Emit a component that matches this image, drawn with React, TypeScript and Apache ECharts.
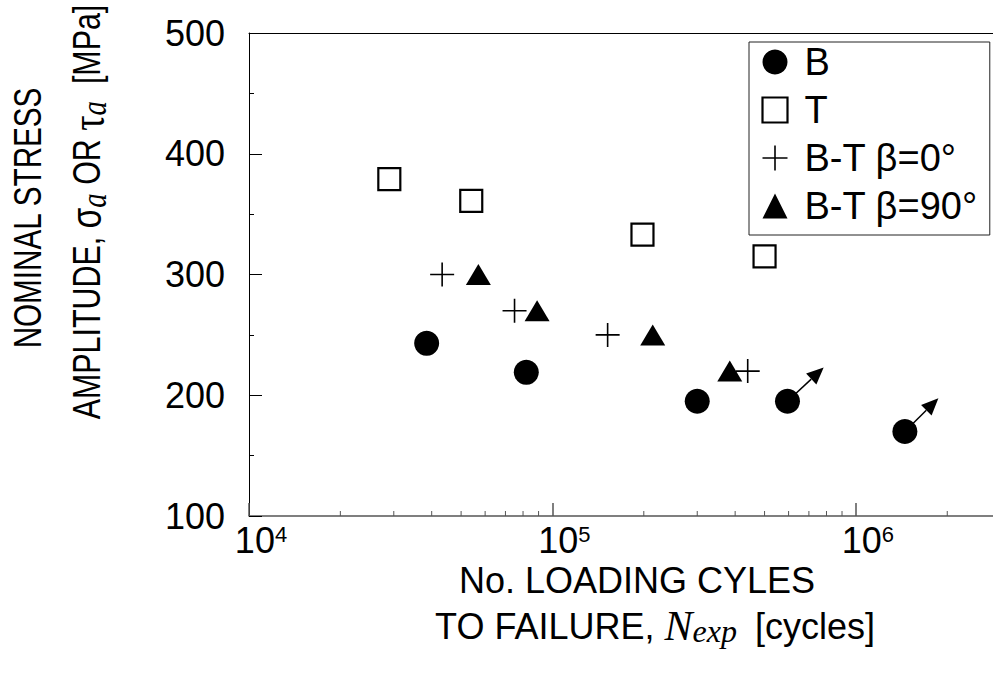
import React, { useEffect, useRef } from "react";
import * as echarts from "echarts";

const SANS = "'Liberation Sans', Arial, sans-serif";
const SERIF = "'Liberation Serif', 'Times New Roman', serif";

const seriesNames = ["B", "T", "B-T β=0°", "B-T β=90°"];
const cyclesB = [3.85e4, 8.2e4, 3.0e5, 5.95e5, 1.45e6];
const stressB = [243, 219, 195, 195, 170];
const cyclesT = [2.9e4, 5.4e4, 1.98e5, 5.0e5];
const stressT = [379, 361, 333, 315];
const cyclesBT0 = [4.33e4, 7.5e4, 1.52e5, 4.4e5];
const stressBT0 = [300, 270, 250, 220];
const cyclesBT90 = [5.7e4, 8.9e4, 2.14e5, 3.84e5];
const stressBT90 = [300, 270, 250, 220];
// run-out specimens: arrow from the point to the tip
const runoutFrom = [
  [5.95e5, 195],
  [1.45e6, 170],
];
const runoutTo = [
  [7.83e5, 223],
  [1.87e6, 197.5],
];
const xMin = 1e4;
const xMax = 2.83e6;
const yMin = 100;
const yMax = 500;
const yStep = 100;
const minorTicksX = [
  2e4, 3e4, 4e4, 5e4, 6e4, 7e4, 8e4, 9e4,
  2e5, 3e5, 4e5, 5e5, 6e5, 7e5, 8e5, 9e5,
  2e6,
];

const pairs = (xs: number[], ys: number[]) => xs.map((x, i) => [x, ys[i]]);

export default function App() {
  const ref = useRef<HTMLDivElement>(null);
  useEffect(() => {
    if (!ref.current) return;
    const chart = echarts.init(ref.current, null, { renderer: "svg" });
    const option: any = {
      animation: false,
      backgroundColor: "#fff",
      grid: { left: 249, top: 33, right: 0, bottom: 157 },
      legend: {
        data: seriesNames,
        orient: "vertical",
        left: 749,
        top: 42,
        padding: [1, 12, 10, 11],
        backgroundColor: "#fff",
        borderColor: "#222",
        borderWidth: 1,
        borderRadius: 0,
        itemWidth: 25,
        itemHeight: 25,
        itemGap: 10,
        itemStyle: { borderWidth: "inherit", opacity: 1 },
        textStyle: {
          fontSize: 38,
          fontFamily: SANS,
          color: "#000",
          lineHeight: 38,
          padding: [0, 0, 0, 12],
        },
      },
      xAxis: [
        {
          type: "log",
          logBase: 10,
          min: xMin,
          max: xMax,
          axisLine: { show: true, lineStyle: { color: "#555", width: 1.5 } },
          axisTick: { show: true, inside: true, length: 13, lineStyle: { color: "#555", width: 1.5 } },
          splitLine: { show: false },
          minorTick: { show: false },
          axisLabel: {
            margin: 6,
            showMaxLabel: false,
            formatter: (v: number) => {
              const e = Math.log10(v);
              if (Math.abs(e - Math.round(e)) > 1e-6) return "";
              return `{pad|}{b|10}{s|${Math.round(e)}}`;
            },
            rich: {
              pad: { width: 24 },
              b: { fontSize: 36, fontFamily: SANS, color: "#000" },
              s: { fontSize: 22, fontFamily: SANS, color: "#000", padding: [0, 0, 12, 0] },
            },
          },
        },
        {
          type: "value",
          position: "top",
          min: 0,
          max: 1,
          axisLine: { show: true, onZero: false, lineStyle: { color: "#000", width: 1 } },
          axisTick: { show: false },
          axisLabel: { show: false },
          splitLine: { show: false },
        },
      ],
      yAxis: {
        type: "value",
        min: yMin,
        max: yMax,
        interval: yStep,
        axisLine: { show: true, lineStyle: { color: "#000", width: 1 } },
        axisTick: { show: true, inside: true, length: 13, lineStyle: { color: "#000", width: 1 } },
        minorTick: { show: true, splitNumber: 2, length: 5, lineStyle: { color: "#000", width: 1 } },
        splitLine: { show: false },
        axisLabel: { margin: 24, fontSize: 36, fontFamily: SANS, color: "#000" },
      },
      graphic: [
        {
          type: "text",
          x: 28,
          y: 218,
          rotation: Math.PI / 2,
          scaleX: 0.78,
          style: {
            text: "NOMINAL STRESS",
            fontSize: 38,
            fontFamily: SANS,
            fill: "#000",
            align: "center",
            verticalAlign: "middle",
          },
        },
        {
          type: "text",
          x: 87,
          y: 212,
          rotation: Math.PI / 2,
          scaleX: 0.8,
          style: {
            text: "AMPLITUDE, {sig|σ}{sub|a} OR {tau|τ}{sub|a}  [MPa]",
            fontSize: 38,
            fontFamily: SANS,
            fill: "#000",
            align: "center",
            verticalAlign: "middle",
            rich: {
              sig: { fontSize: 42, fontFamily: SANS, fill: "#000" },
              tau: { fontSize: 48, fontFamily: SERIF, fill: "#000" },
              sub: { fontSize: 36, fontFamily: SERIF, fontStyle: "italic", fill: "#000", padding: [14, 0, 0, 0] },
            },
          },
        },
        {
          type: "text",
          x: 637,
          y: 580,
          style: {
            text: "No. LOADING CYLES",
            fontSize: 36,
            fontFamily: SANS,
            fill: "#000",
            align: "center",
            verticalAlign: "middle",
          },
        },
        {
          type: "text",
          x: 655,
          y: 626,
          style: {
            text: "TO FAILURE, {N|N}{sub|exp} [cycles]",
            fontSize: 36,
            fontFamily: SANS,
            fill: "#000",
            align: "center",
            verticalAlign: "middle",
            rich: {
              N: { fontSize: 42, fontFamily: SERIF, fontStyle: "italic", fill: "#000" },
              sub: {
                fontSize: 32,
                fontFamily: SERIF,
                fontStyle: "italic",
                fill: "#000",
                padding: [10, 8, 0, 0],
              },
            },
          },
        },
      ],
      series: [
        {
          name: "minor-x-ticks",
          type: "custom",
          xAxisIndex: 0,
          silent: true,
          z: 1,
          data: minorTicksX.map((v) => [v, yMin]),
          encode: { x: 0, y: 1 },
          renderItem: (params: any, api: any) => {
            const p = api.coord([api.value(0), api.value(1)]);
            return {
              type: "line",
              shape: { x1: p[0], y1: p[1], x2: p[0], y2: p[1] - 5 },
              style: { stroke: "#555", lineWidth: 1 },
            };
          },
        },
        {
          name: "runout",
          type: "custom",
          xAxisIndex: 0,
          silent: true,
          z: 1,
          data: runoutFrom.map((f, i) => [f[0], f[1], runoutTo[i][0], runoutTo[i][1]]),
          encode: { x: [0, 2], y: [1, 3] },
          renderItem: (params: any, api: any) => {
            const p1 = api.coord([api.value(0), api.value(1)]);
            const p2 = api.coord([api.value(2), api.value(3)]);
            const dx = p2[0] - p1[0];
            const dy = p2[1] - p1[1];
            const len = Math.hypot(dx, dy) || 1;
            const ux = dx / len;
            const uy = dy / len;
            const headLen = 17;
            const headW = 15;
            const bx = p2[0] - ux * headLen;
            const by = p2[1] - uy * headLen;
            const nx = -uy;
            const ny = ux;
            return {
              type: "group",
              children: [
                {
                  type: "line",
                  shape: { x1: p1[0], y1: p1[1], x2: bx, y2: by },
                  style: { stroke: "#000", lineWidth: 1.5 },
                },
                {
                  type: "polygon",
                  shape: {
                    points: [
                      [p2[0], p2[1]],
                      [bx + (nx * headW) / 2, by + (ny * headW) / 2],
                      [bx - (nx * headW) / 2, by - (ny * headW) / 2],
                    ],
                  },
                  style: { fill: "#000" },
                },
              ],
            };
          },
        },
        {
          name: seriesNames[0],
          type: "scatter",
          xAxisIndex: 0,
          z: 3,
          symbol: "circle",
          symbolSize: 25,
          itemStyle: { color: "#000", opacity: 1 },
          data: pairs(cyclesB, stressB),
        },
        {
          name: seriesNames[1],
          type: "scatter",
          xAxisIndex: 0,
          z: 3,
          symbol: "rect",
          symbolSize: 22,
          itemStyle: { color: "#fff", borderColor: "#000", borderWidth: 2.2, opacity: 1 },
          data: pairs(cyclesT, stressT),
        },
        {
          name: seriesNames[2],
          type: "scatter",
          xAxisIndex: 0,
          z: 3,
          symbol: "path://M0,12L24,12M12,0L12,24",
          symbolSize: 24,
          itemStyle: { color: "none", borderColor: "#000", borderWidth: 1.6, opacity: 1 },
          data: pairs(cyclesBT0, stressBT0),
        },
        {
          name: seriesNames[3],
          type: "scatter",
          xAxisIndex: 0,
          z: 3,
          symbol: "triangle",
          symbolSize: [25, 21],
          itemStyle: { color: "#000", opacity: 1 },
          data: pairs(cyclesBT90, stressBT90),
        },
      ],
    };
    chart.setOption(option);
    return () => chart.dispose();
  }, []);
  return (
    <div
      ref={ref}
      style={{ position: "fixed", left: 0, top: 0, width: 993, height: 673, background: "#fff" }}
    />
  );
}
